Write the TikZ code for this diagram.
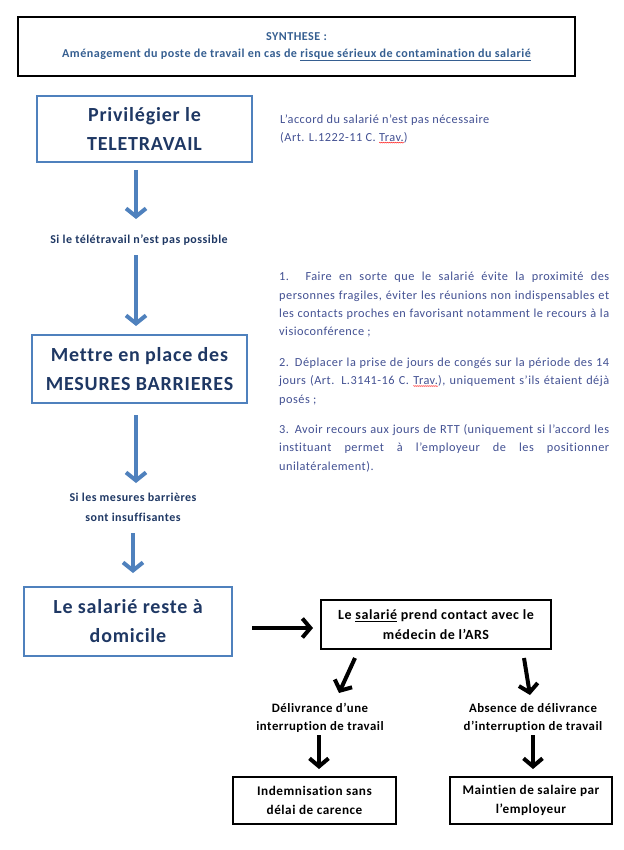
\documentclass[tikz,border=0pt]{standalone}
\usepackage{fontspec}
\setmainfont{Carlito}[LetterSpace=4,Ligatures=NoCommon]
\usetikzlibrary{arrows.meta,decorations.pathmorphing}
\definecolor{navy}{RGB}{31,56,100}
\definecolor{headblue}{RGB}{54,95,145}
\definecolor{bordblue}{RGB}{79,129,189}
\definecolor{paratext}{RGB}{66,80,146}
\hyphenpenalty=10000
\exhyphenpenalty=10000
\newcommand\squig[1]{\tikz[baseline=(w.base)]{\node[inner sep=0pt,outer sep=0pt,text=paratext](w){#1};\draw[red,line width=0.4pt,decorate,decoration={snake,amplitude=0.5pt,segment length=2pt}] ([yshift=-1.2pt]w.south west) -- ([yshift=-1.2pt]w.south east);}}
\tikzset{
  bluebox/.style={draw=bordblue,line width=2pt,align=center,text=navy,font=\fontsize{20}{29}\selectfont\bfseries,inner sep=0pt},
  blackbox/.style={draw=black,line width=2pt,align=center,text=black,font=\fontsize{13.2}{19.5}\selectfont\bfseries,inner sep=0pt},
  bluelabel/.style={align=center,text=navy,font=\fontsize{12}{20}\selectfont\bfseries,inner sep=0pt},
  blacklabel/.style={align=center,text=black,font=\fontsize{12.8}{18}\selectfont\bfseries,inner sep=0pt},
  barrow/.style={draw=bordblue,line width=4pt,-{Straight Barb[length=8pt,width=20pt,line width=4pt]}},
  karrow/.style={draw=black,line width=4pt,-{Straight Barb[length=8pt,width=19pt,line width=4pt]}},
}
\begin{document}
\begin{tikzpicture}[x=1pt,y=-1pt]
\useasboundingbox (0,0) rectangle (623,850);
% header
\node[draw=black,line width=1.2pt,minimum width=557pt,minimum height=59pt,align=center,text=headblue,font=\fontsize{12.1}{17}\selectfont\bfseries,inner sep=0pt] (head) at (296.5,46.5)
  {SYNTHESE :\\Aménagement du poste de travail en cas de \underline{risque sérieux de contamination du salarié}};
% box 1
\node[bluebox,minimum width=215pt,minimum height=66pt] (b1) at (144.5,129) {Privilégier le\\TELETRAVAIL};
\node[anchor=west,align=left,text=paratext,font=\fontsize{12.3}{18}\selectfont,inner sep=0pt] (note1) at (280,129)
  {L’accord du salarié n’est pas nécessaire\\(Art. L.1222-11 C. \squig{Trav.})};
\node[bluelabel] (l1) at (139,240) {Si le télétravail n’est pas possible};
% box 2
\node[bluebox,minimum width=215pt,minimum height=68pt] (b2) at (139.5,369) {Mettre en place des\\MESURES BARRIERES};
\node[anchor=north west,text width=330pt,align=justify,text=paratext,font=\fontsize{12.3}{18.4}\selectfont,inner sep=0pt] (note2) at (279,272)
  {1. Faire en sorte que le salarié évite la proximité des\linebreak personnes fragiles, éviter les réunions non indispensables et\linebreak les contacts proches en favorisant notamment le recours à la\linebreak visioconférence ;\par\vspace{12pt}
  2. Déplacer la prise de jours de congés sur la période des 14\linebreak jours (Art. L.3141-16 C. \squig{Trav.}), uniquement s’ils étaient déjà\linebreak posés ;\par\vspace{12pt}
  3. Avoir recours aux jours de RTT (uniquement si l’accord les\linebreak instituant permet à l’employeur de les positionner\linebreak unilatéralement).};
\node[bluelabel] (l2) at (133,507) {Si les mesures barrières\\sont insuffisantes};
% box 3
\node[bluebox,minimum width=208pt,minimum height=69pt] (b3) at (128,621.5) {Le salarié reste à\\domicile};
% box 4
\node[blackbox,minimum width=230pt,minimum height=49pt,font=\fontsize{14}{20}\selectfont\bfseries] (b4) at (436,624.5) {Le \underline{salarié} prend contact avec le\\médecin de l’ARS};
\node[blacklabel] (l3) at (320,718) {Délivrance d’une\\interruption de travail};
\node[blacklabel] (l4) at (533,718) {Absence de délivrance\\d’interruption de travail};
\node[blackbox,minimum width=163pt,minimum height=47pt] (b5) at (314.5,800.5) {Indemnisation sans\\délai de carence};
\node[blackbox,minimum width=162pt,minimum height=47pt] (b6) at (531,800.5) {Maintien de salaire par\\l’employeur};
% arrow coordinates
\coordinate (a1s) at (136,170); \coordinate (a1e) at (136,219);
\coordinate (a2s) at (136,255); \coordinate (a2e) at (136,326);
\coordinate (a3s) at (136,415); \coordinate (a3e) at (136,483);
\coordinate (a4s) at (133,533); \coordinate (a4e) at (133,573);
\coordinate (a5s) at (252,628); \coordinate (a5e) at (313,628);
\coordinate (a6s) at (355,658); \coordinate (a6e) at (339,693);
\coordinate (a7s) at (524,658); \coordinate (a7e) at (530,695);
\coordinate (a8s) at (319,735); \coordinate (a8e) at (319,769);
\coordinate (a9s) at (533,735); \coordinate (a9e) at (533,769);
\draw[barrow] (a1s) -- (a1e);
\draw[barrow] (a2s) -- (a2e);
\draw[barrow] (a3s) -- (a3e);
\draw[barrow] (a4s) -- (a4e);
\draw[karrow] (a5s) -- (a5e);
\draw[karrow] (a6s) -- (a6e);
\draw[karrow] (a7s) -- (a7e);
\draw[karrow] (a8s) -- (a8e);
\draw[karrow] (a9s) -- (a9e);
\end{tikzpicture}
\end{document}
